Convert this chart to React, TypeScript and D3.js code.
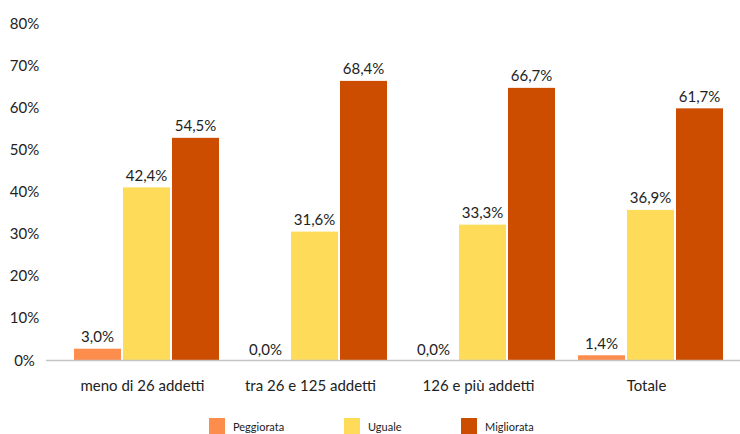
import React from "react";
import * as d3 from "d3";

const categories = ["meno di 26 addetti", "tra 26 e 125 addetti", "126 e più addetti", "Totale"];
const seriesNames = ["Peggiorata", "Uguale", "Migliorata"];
const peggiorata = [3.0, 0.0, 0.0, 1.4];
const uguale = [42.4, 31.6, 33.3, 36.9];
const migliorata = [54.5, 68.4, 66.7, 61.7];
const tickValues = [0, 10, 20, 30, 40, 50, 60, 70, 80];

const colors = ["#FD8D4C", "#FEDC5A", "#CC4C00"];
const W = 740;
const H = 434;
const FONT = "Lato, 'Open Sans', sans-serif";

export default function App() {
  const series = [peggiorata, uguale, migliorata];
  const x0 = d3.scaleBand<string>().domain(categories).range([62.5, 734.5]).padding(0);
  const x1 = d3
    .scaleBand<string>()
    .domain(seriesNames)
    .range([11.5, 156.5])
    .paddingInner(2 / 49)
    .paddingOuter(0);
  const yBar = d3.scaleLinear().domain([0, 80]).range([361, 33.4]);
  const yTick = d3.scaleLinear().domain([0, 80]).range([359.5, 23]);
  const fmt = (v: number) => d3.format(".1f")(v).replace(".", ",") + "%";

  const legendX = [209, 344, 461];

  return (
    <svg
      width={W}
      height={H}
      style={{ position: "absolute", left: 0, top: 0, background: "#fff" }}
      fontFamily={FONT}
    >
      <rect width={W} height={H} fill="#fff" />
      {tickValues.map((t) => (
        <text
          key={t}
          x={24.5}
          y={yTick(t)}
          textAnchor="middle"
          dominantBaseline="central"
          fontSize={15}
          fill="#222"
        >
          {t}%
        </text>
      ))}
      {categories.map((c, ci) => (
        <g key={c} transform={`translate(${x0(c)},0)`}>
          {seriesNames.map((s, si) => {
            const v = series[si][ci];
            const bx = x1(s)!;
            const top = yBar(v);
            return (
              <g key={s}>
                <rect x={bx} y={top} width={x1.bandwidth()} height={yBar(0) - top} fill={colors[si]} />
                <text
                  x={bx + x1.bandwidth() / 2}
                  y={top - 6.5}
                  textAnchor="middle"
                  fontSize={15}
                  fill="#222"
                >
                  {fmt(v)}
                </text>
              </g>
            );
          })}
          <text x={x0.bandwidth() / 2 - 4} y={391} textAnchor="middle" fontSize={15} fill="#222">
            {c}
          </text>
        </g>
      ))}
      <line x1={46} x2={740} y1={360.5} y2={360.5} stroke="#c4c4c4" strokeWidth={1.5} />
      {seriesNames.map((s, si) => (
        <g key={s} transform={`translate(${legendX[si]},418)`}>
          <rect width={16} height={16} fill={colors[si]} />
          <text x={24} y={13} fontSize={11} fill="#222">
            {s}
          </text>
        </g>
      ))}
    </svg>
  );
}
